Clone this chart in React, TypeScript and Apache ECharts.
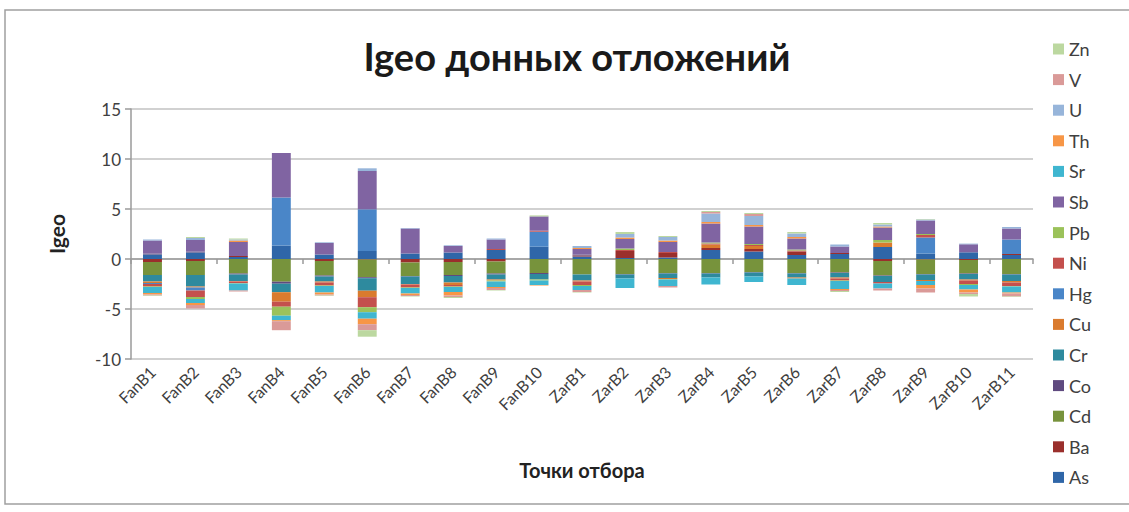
import React, { useEffect, useRef } from "react";
import * as echarts from "echarts";

// Sampling points
const categories = [
  "FanB1", "FanB2", "FanB3", "FanB4", "FanB5", "FanB6", "FanB7", "FanB8", "FanB9", "FanB10",
  "ZarB1", "ZarB2", "ZarB3", "ZarB4", "ZarB5", "ZarB6", "ZarB7", "ZarB8", "ZarB9", "ZarB10", "ZarB11",
];

// Igeo per element, one value per sampling point
const As = [0.45, 0.65, 0.2, 1.35, 0.45, 0.8, 0.55, 0.65, 0.9, 1.23, 0.25, 0.1, 0.15, 0.9, 0.75, 0.4, 0.5, 1.2, 0.55, 0.67, 0.4];
const Ba = [-0.3, -0.2, 0.1, 0, -0.2, -0.05, -0.35, -0.3, -0.25, 0, 0.1, 0.7, 0.45, 0.2, 0.25, 0.35, 0.1, -0.2, -0.05, -0.1, 0.1];
const Cd = [-1.3, -1.4, -1.45, -2.27, -1.45, -1.77, -1.35, -1.3, -1.2, -1.4, -1.55, -1.5, -1.4, -1.4, -1.3, -1.4, -1.35, -1.45, -1.45, -1.35, -1.5];
const Co = [0.1, 0.1, -0.1, -0.2, -0.1, -0.1, -0.05, -0.1, -0.1, -0.1, 0.1, -0.05, -0.05, -0.05, -0.05, -0.05, -0.05, -0.05, -0.05, -0.05, -0.05];
const Cr = [-0.65, -1.15, -0.65, -0.85, -0.5, -1.25, -0.75, -0.65, -0.5, -0.55, -0.6, -0.4, -0.45, -0.4, -0.4, -0.4, -0.45, -0.6, -0.55, -0.55, -0.65];
const Cu = [-0.15, -0.1, -0.05, -0.95, -0.1, -0.65, -0.05, -0.25, -0.1, 0, -0.1, 0, -0.1, 0.35, 0.3, -0.1, -0.1, 0.45, -0.1, -0.1, -0.15];
const Hg = [-0.1, -0.3, 0, 4.8, 0, 4.17, 0, 0, 0, 1.5, 0, 0, 0, 0, 0, 0, 0, 0, 1.6, 0, 1.45];
const Ni = [-0.25, -0.65, -0.15, -0.5, -0.3, -1.0, -0.3, -0.15, 0.1, 0.1, -0.35, 0.1, 0.1, 0.1, 0.1, 0.1, -0.2, -0.15, 0.25, -0.35, -0.35];
const Pb = [-0.05, -0.2, -0.05, -0.9, -0.05, -0.5, -0.05, -0.05, -0.1, -0.1, -0.1, 0.15, -0.05, 0.1, 0.1, 0.1, -0.05, 0.25, 0.1, -0.1, -0.05];
const Sb = [1.3, 1.15, 1.4, 4.45, 1.15, 3.83, 2.5, 0.65, 0.95, 1.43, 0.55, 0.95, 1.0, 1.9, 1.75, 1.1, 0.65, 1.25, 1.35, 0.8, 1.1];
const Sr = [-0.6, -0.4, -0.7, -0.45, -0.65, -0.65, -0.55, -0.5, -0.55, -0.45, -0.4, -0.95, -0.65, -0.7, -0.55, -0.65, -0.8, -0.5, -0.4, -0.45, -0.6];
const Th = [-0.15, -0.2, 0.15, -0.1, -0.2, -0.55, -0.15, -0.35, -0.1, -0.05, 0.1, 0.15, 0.15, 0.15, 0.15, 0.15, -0.1, 0.1, -0.35, -0.3, -0.1];
const U = [0.1, 0.2, 0.1, 0, 0.07, 0.27, 0.05, 0.07, 0.1, 0, 0.2, 0.35, 0.35, 0.85, 0.9, 0.35, 0.2, 0.2, 0.1, 0.07, 0.15];
const V = [-0.1, -0.35, -0.1, -0.9, -0.1, -0.6, -0.1, -0.15, -0.2, 0, -0.2, 0, -0.15, 0.15, 0.2, 0, -0.1, -0.2, -0.4, -0.15, -0.3];
const Zn = [-0.05, 0.1, 0.1, 0, -0.05, -0.65, -0.05, -0.1, -0.05, 0.1, -0.05, 0.2, 0.1, 0.1, 0.1, 0.15, -0.1, 0.15, 0.05, -0.25, -0.05];

const elementNames = ["As", "Ba", "Cd", "Co", "Cr", "Cu", "Hg", "Ni", "Pb", "Sb", "Sr", "Th", "U", "V", "Zn"];
const elementValues = [As, Ba, Cd, Co, Cr, Cu, Hg, Ni, Pb, Sb, Sr, Th, U, V, Zn];
const elementColors = [
  "#2F66A8", "#9A2F2C", "#77933C", "#5F4A7F", "#2E8A9E", "#DA7B2E", "#4A86C8", "#C4504D",
  "#9BC25A", "#8064A2", "#3FB6D0", "#F79646", "#97B5DA", "#DA9A98", "#BCD8A0",
];

const yTicks = { min: -10, max: 15, step: 5 };

const FONT = "Lato, 'Open Sans', sans-serif";

export default function App() {
  const ref = useRef<HTMLDivElement>(null);

  useEffect(() => {
    if (!ref.current) return;
    const chart = echarts.init(ref.current, null, { renderer: "svg" });

    const series = elementNames.map((name, i) => ({
      name,
      type: "bar",
      stack: "igeo",
      xAxisIndex: 0,
      barWidth: "44%",
      itemStyle: { color: elementColors[i] },
      data: elementValues[i],
    }));

    chart.setOption({
      animation: false,
      backgroundColor: "#ffffff",
      textStyle: { fontFamily: FONT },
      color: elementColors,
      title: {
        text: "Igeo донных отложений",
        left: 572,
        textAlign: "center",
        top: 32,
        textStyle: { fontFamily: FONT, fontSize: 38, fontWeight: "bold", color: "#1a1a1a" },
      },
      legend: {
        orient: "vertical",
        left: 1048,
        top: 35,
        icon: "rect",
        itemWidth: 11,
        itemHeight: 11,
        itemGap: 12.6,
        data: [...elementNames].reverse(),
        textStyle: { fontFamily: FONT, fontSize: 18, color: "#404040", lineHeight: 18 },
      },
      grid: { left: 131, right: 96, top: 109, bottom: 153, outerBoundsMode: "none" },
      xAxis: [
        {
          type: "category",
          data: categories,
          position: "bottom",
          axisLine: { show: false, onZero: false },
          axisTick: { show: false },
          axisLabel: {
            rotate: 45,
            fontSize: 16,
            color: "#404040",
            fontFamily: FONT,
            margin: 10,
            interval: 0,
          },
          name: "Точки отбора",
          nameLocation: "middle",
          nameGap: 101,
          nameTextStyle: { fontFamily: FONT, fontSize: 20, fontWeight: "bold", color: "#222" },
        },
        {
          type: "category",
          data: categories,
          position: "bottom",
          axisLine: { show: true, onZero: true, lineStyle: { color: "#9a9a9a", width: 1.5 } },
          axisTick: { show: true, length: 5, lineStyle: { color: "#9a9a9a", width: 1.5 } },
          axisLabel: { show: false },
          splitLine: { show: false },
        },
      ],
      yAxis: {
        type: "value",
        min: yTicks.min,
        max: yTicks.max,
        interval: yTicks.step,
        axisLine: { show: true, lineStyle: { color: "#9a9a9a", width: 1.5 } },
        axisTick: { show: true, length: 6, lineStyle: { color: "#9a9a9a", width: 1.5 } },
        splitLine: { show: true, lineStyle: { color: "#c2c2c2", width: 1.5 } },
        axisLabel: { fontSize: 17, color: "#404040", fontFamily: FONT, margin: 10 },
        name: "Igeo",
        nameLocation: "middle",
        nameGap: 64,
        nameTextStyle: { fontFamily: FONT, fontSize: 21, fontWeight: "bold", color: "#222" },
      },
      graphic: [
        {
          type: "rect",
          silent: true,
          z: -1,
          shape: { x: 5, y: 10, width: 1140, height: 494 },
          style: { fill: "none", stroke: "#a0a0a0", lineWidth: 1.5 },
        },
      ],
      series,
    });

    return () => chart.dispose();
  }, []);

  return (
    <div
      ref={ref}
      style={{ position: "absolute", left: 0, top: 0, width: 1129, height: 512 }}
    />
  );
}
